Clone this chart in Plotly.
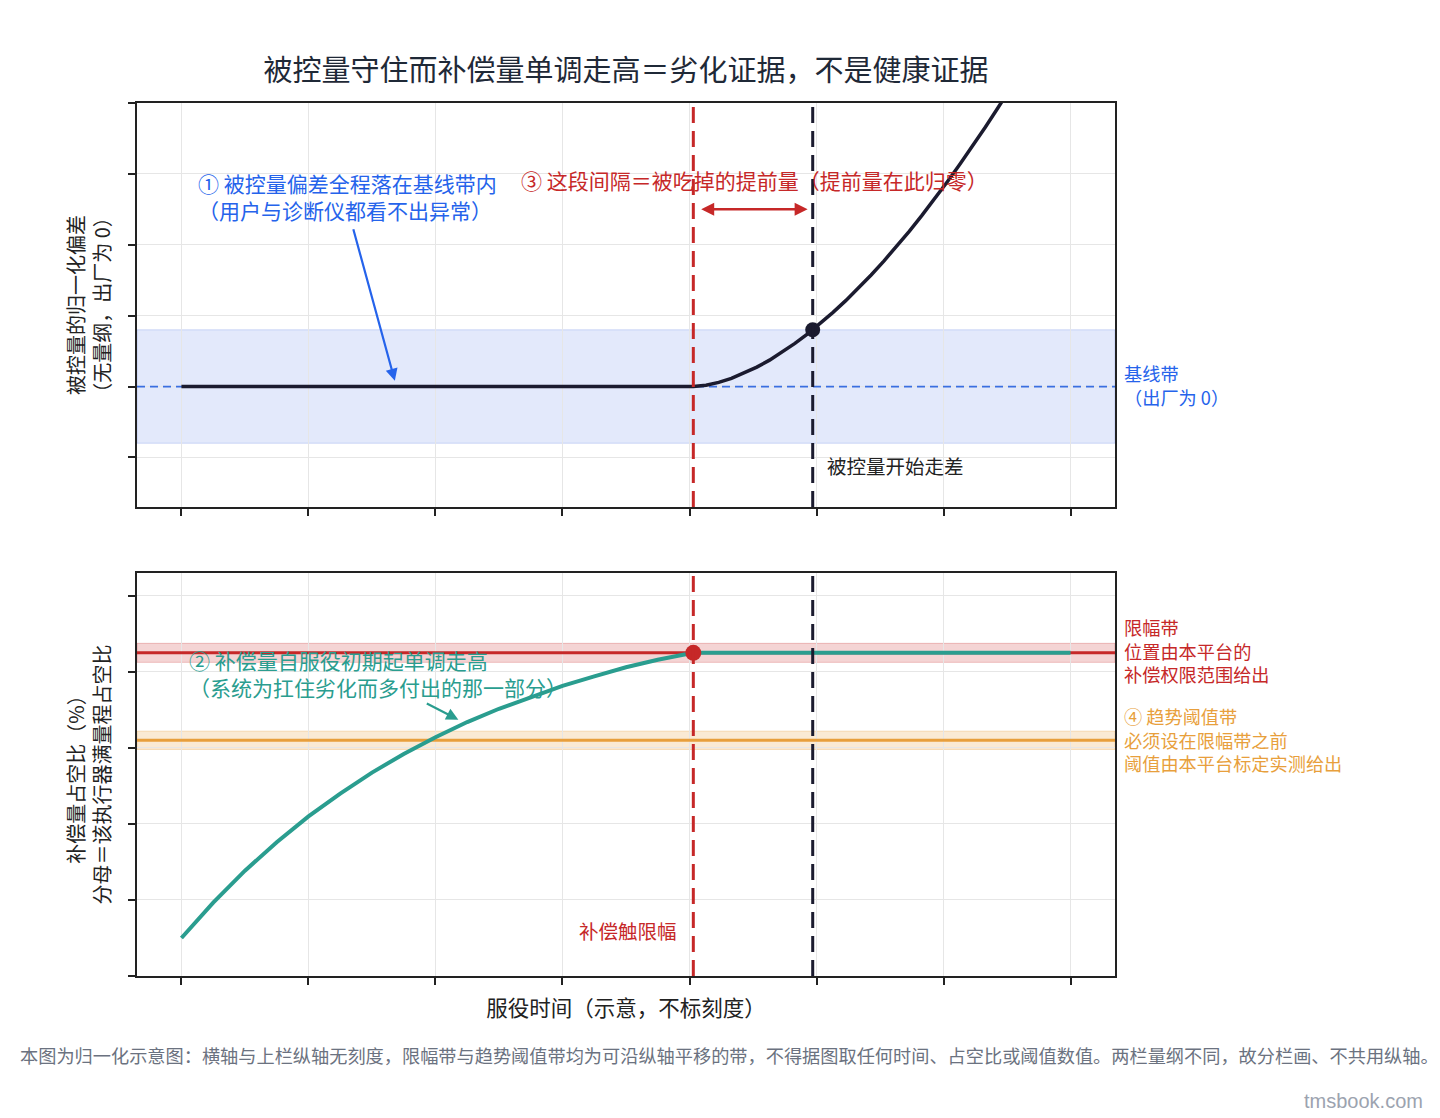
import plotly.graph_objects as go

# ---------------- data ----------------
# service time (schematic, no scale), shared x for both panels
tick_x = [0, 1, 2, 3, 4, 5, 6, 7]
x_span = [-0.35, 7.35]  # visible time window
t_limit = 4.03   # compensation hits its limit
t_drift = 4.97   # controlled variable starts to drift

# top panel: normalized deviation of the controlled variable
x_top = [0.0, 4.03, 4.13, 4.23, 4.33, 4.43, 4.53, 4.63, 4.73, 4.83, 4.93, 5.03,
         5.13, 5.23, 5.33, 5.43, 5.53, 5.63, 5.73, 5.83, 5.93, 6.03, 6.13,
         6.23, 6.33, 6.43, 6.53]
dev_top = [0.0, 0.0, 0.009, 0.029, 0.057, 0.094, 0.137, 0.186, 0.242, 0.304,
           0.372, 0.444, 0.523, 0.606, 0.694, 0.787, 0.885, 0.988, 1.095,
           1.207, 1.323, 1.444, 1.569, 1.698, 1.831, 1.968, 2.110]
baseline_level = 0.0
baseline_half = 0.4
top_ticks = [-0.5, 0.0, 0.5, 1.0, 1.5, 2.0]

# bottom panel: compensation duty cycle (%)
x_bot = [0.0, 0.25, 0.5, 0.75, 1.0, 1.25, 1.5, 1.75, 2.0, 2.25, 2.5, 2.75,
         3.0, 3.25, 3.5, 3.75, 4.03, 7.0]
duty_bot = [10.0, 19.3, 27.7, 35.2, 42.0, 48.0, 53.5, 58.4, 62.8, 66.8, 70.3,
            73.4, 76.3, 78.8, 81.2, 83.2, 85.0, 85.0]
limit_level = 85.0
limit_half = 2.5
trend_level = 62.0
trend_half = 2.4
bot_ticks = [0, 20, 40, 60, 80, 100]

# ---------------- style ----------------
FONT = "Noto Sans CJK SC, Noto Sans, sans-serif"
NAVY = "#1b1b2f"
RED = "#c62828"
BLUE = "#2563eb"
TEAL = "#2a9d8f"
ORANGE = "#e89f3c"
AX = "#222222"
GRID = "#e6e6e6"

fig = go.Figure()

# reference lines (drawn first so the curves sit on top)
fig.add_trace(go.Scatter(x=x_span, y=[baseline_level, baseline_level], mode="lines",
                         line=dict(color="#3b6fe0", width=1.8, dash="8px,5px"),
                         xaxis="x", yaxis="y", hoverinfo="skip"))
fig.add_trace(go.Scatter(x=x_span, y=[limit_level, limit_level], mode="lines",
                         line=dict(color=RED, width=3),
                         xaxis="x2", yaxis="y2", hoverinfo="skip"))
fig.add_trace(go.Scatter(x=x_span, y=[trend_level, trend_level], mode="lines",
                         line=dict(color=ORANGE, width=3),
                         xaxis="x2", yaxis="y2", hoverinfo="skip"))

fig.add_trace(go.Scatter(x=x_top, y=dev_top, mode="lines",
                         line=dict(color=NAVY, width=3.5),
                         xaxis="x", yaxis="y", hoverinfo="skip"))
fig.add_trace(go.Scatter(x=[t_drift], y=[baseline_half], mode="markers",
                         marker=dict(color=NAVY, size=15),
                         xaxis="x", yaxis="y", hoverinfo="skip"))
fig.add_trace(go.Scatter(x=x_bot, y=duty_bot, mode="lines",
                         line=dict(color=TEAL, width=4),
                         xaxis="x2", yaxis="y2", hoverinfo="skip"))
fig.add_trace(go.Scatter(x=[t_limit], y=[limit_level], mode="markers",
                         marker=dict(color=RED, size=16),
                         xaxis="x2", yaxis="y2", hoverinfo="skip"))

shapes = []
# bands
shapes.append(dict(type="rect", xref="x", yref="y", x0=x_span[0], x1=x_span[1],
                   y0=baseline_level - baseline_half, y1=baseline_level + baseline_half,
                   fillcolor="rgba(65,105,225,0.15)",
                   line=dict(color="rgba(65,105,225,0.22)", width=1), layer="below"))
shapes.append(dict(type="rect", xref="x2", yref="y2", x0=x_span[0], x1=x_span[1],
                   y0=limit_level - limit_half, y1=limit_level + limit_half,
                   fillcolor="rgba(198,40,40,0.2)",
                   line=dict(color="rgba(198,40,40,0.25)", width=1), layer="below"))
shapes.append(dict(type="rect", xref="x2", yref="y2", x0=x_span[0], x1=x_span[1],
                   y0=trend_level - trend_half, y1=trend_level + trend_half,
                   fillcolor="rgba(232,159,60,0.22)",
                   line=dict(color="rgba(232,159,60,0.3)", width=1), layer="below"))
# vertical dashed markers in both panels
for xr, yr, yr0, yr1 in (("x", "y", -0.85, 2.0), ("x2", "y2", 0, 106)):
    shapes.append(dict(type="line", xref=xr, yref=yr, x0=t_limit, x1=t_limit, y0=yr0, y1=yr1,
                       line=dict(color=RED, width=3, dash="16px,8px"), layer="above"))
    shapes.append(dict(type="line", xref=xr, yref=yr, x0=t_drift, x1=t_drift, y0=yr0, y1=yr1,
                       line=dict(color=NAVY, width=3, dash="16px,8px"), layer="above"))

ann = []
A = 21     # in-plot callouts
S = 19.5   # short labels
R = 18.2   # right-side notes
XR = 1.0075  # paper x just right of the plot area
# top panel annotations
ann.append(dict(xref="x", yref="y", x=0.118, y=1.34, xanchor="left", yanchor="middle",
                align="left", showarrow=False,
                text="① 被控量偏差全程落在基线带内<br>（用户与诊断仪都看不出异常）",
                font=dict(color=BLUE, size=A)))
ann.append(dict(xref="x", yref="y", axref="x", ayref="y", x=1.68, y=0.04,
                ax=1.35, ay=1.12, text="", showarrow=True, arrowhead=2,
                arrowsize=1.1, arrowwidth=2.2, arrowcolor=BLUE))
ann.append(dict(xref="x", yref="y", x=2.66, y=1.46, xanchor="left", yanchor="middle",
                showarrow=False, text="③ 这段间隔＝被吃掉的提前量（提前量在此归零）",
                font=dict(color=RED, size=A)))
ann.append(dict(xref="x", yref="y", axref="x", ayref="y", x=4.93, y=1.25,
                ax=4.08, ay=1.25, text="", showarrow=True, arrowhead=2,
                arrowside="end+start", arrowsize=1.0, arrowwidth=2.6, arrowcolor=RED))
ann.append(dict(xref="x", yref="y", x=5.07, y=-0.556, xanchor="left", yanchor="middle",
                showarrow=False, text="被控量开始走差",
                font=dict(color=AX, size=S)))
ann.append(dict(xref="paper", yref="y", x=XR, y=0.01, xanchor="left", yanchor="middle",
                align="left", showarrow=False, text="基线带<br>（出厂为 0）",
                font=dict(color=BLUE, size=R)))
# bottom panel annotations
ann.append(dict(xref="x2", yref="y2", x=0.04, y=79.5, xanchor="left", yanchor="middle",
                align="left", showarrow=False,
                text="② 补偿量自服役初期起单调走高<br>（系统为扛住劣化而多付出的那一部分）",
                font=dict(color=TEAL, size=A)))
ann.append(dict(xref="x2", yref="y2", axref="x2", ayref="y2", x=2.18, y=67.4,
                ax=1.92, ay=71.9, text="", showarrow=True, arrowhead=2,
                arrowsize=1.1, arrowwidth=2.2, arrowcolor=TEAL))
ann.append(dict(xref="x2", yref="y2", x=3.92, y=12.0, xanchor="right", yanchor="middle",
                showarrow=False, text="补偿触限幅", font=dict(color=RED, size=S)))
ann.append(dict(xref="paper", yref="y2", x=XR, y=85.5, xanchor="left", yanchor="middle",
                align="left", showarrow=False,
                text="限幅带<br>位置由本平台的<br>补偿权限范围给出",
                font=dict(color=RED, size=R)))
ann.append(dict(xref="paper", yref="y2", x=XR, y=62.3, xanchor="left", yanchor="middle",
                align="left", showarrow=False,
                text="④ 趋势阈值带<br>必须设在限幅带之前<br>阈值由本平台标定实测给出",
                font=dict(color=ORANGE, size=R)))
# footnote and watermark
ann.append(dict(xref="paper", yref="paper", x=(729 - 137) / 978, y=(976 - 1055) / 873,
                xanchor="center", yanchor="middle", showarrow=False,
                text="本图为归一化示意图：横轴与上栏纵轴无刻度，限幅带与趋势阈值带均为可沿纵轴平移的带，不得据图取任何时间、占空比或阈值数值。两栏量纲不同，故分栏画、不共用纵轴。",
                font=dict(color="#6b7280", size=18.2)))
ann.append(dict(xref="paper", yref="paper", x=(1425 - 137) / 978, y=(976 - 1101) / 873,
                xanchor="right", yanchor="middle", showarrow=False, text="tmsbook.com",
                font=dict(color="#9ca3af", size=20, family="Liberation Sans, Arial, sans-serif")))

axis_common = dict(showticklabels=False, ticks="outside", ticklen=7, tickwidth=1.5,
                   tickcolor=AX, showline=True, linecolor=AX, linewidth=1.8,
                   mirror=True, showgrid=True, gridcolor=GRID, gridwidth=1,
                   zeroline=False)

fig.update_layout(
    width=1440, height=1118,
    margin=dict(l=137, r=325, t=103, b=142),
    paper_bgcolor="white", plot_bgcolor="white",
    showlegend=False,
    font=dict(family=FONT, color=AX),
    title=dict(text="被控量守住而补偿量单调走高＝劣化证据，不是健康证据",
               x=0.5, xref="paper", xanchor="center",
               y=1 - 71 / 1118, yref="container", yanchor="middle",
               font=dict(size=29, color="#1f2937")),
    xaxis=dict(domain=[0, 1], anchor="y", range=x_span, tickvals=tick_x,
               **axis_common),
    yaxis=dict(domain=[0.5372, 1], anchor="x", range=[-0.85, 2.0], tickvals=top_ticks,
               title=dict(text="被控量的归一化偏差<br>（无量纲，出厂为 0）",
                          font=dict(size=20), standoff=12),
               **axis_common),
    xaxis2=dict(domain=[0, 1], anchor="y2", range=x_span, tickvals=tick_x,
                title=dict(text="服役时间（示意，不标刻度）", font=dict(size=21.5),
                           standoff=17),
                **axis_common),
    yaxis2=dict(domain=[0, 0.4616], anchor="x2", range=[0, 106], tickvals=bot_ticks,
                title=dict(text="补偿量占空比（%）<br>分母＝该执行器满量程占空比",
                           font=dict(size=20), standoff=12),
                **axis_common),
    shapes=shapes,
    annotations=ann,
)

fig.write_html("out.html", config={"displayModeBar": False},
               post_script="document.body.style.margin='0';document.body.style.padding='0';")
